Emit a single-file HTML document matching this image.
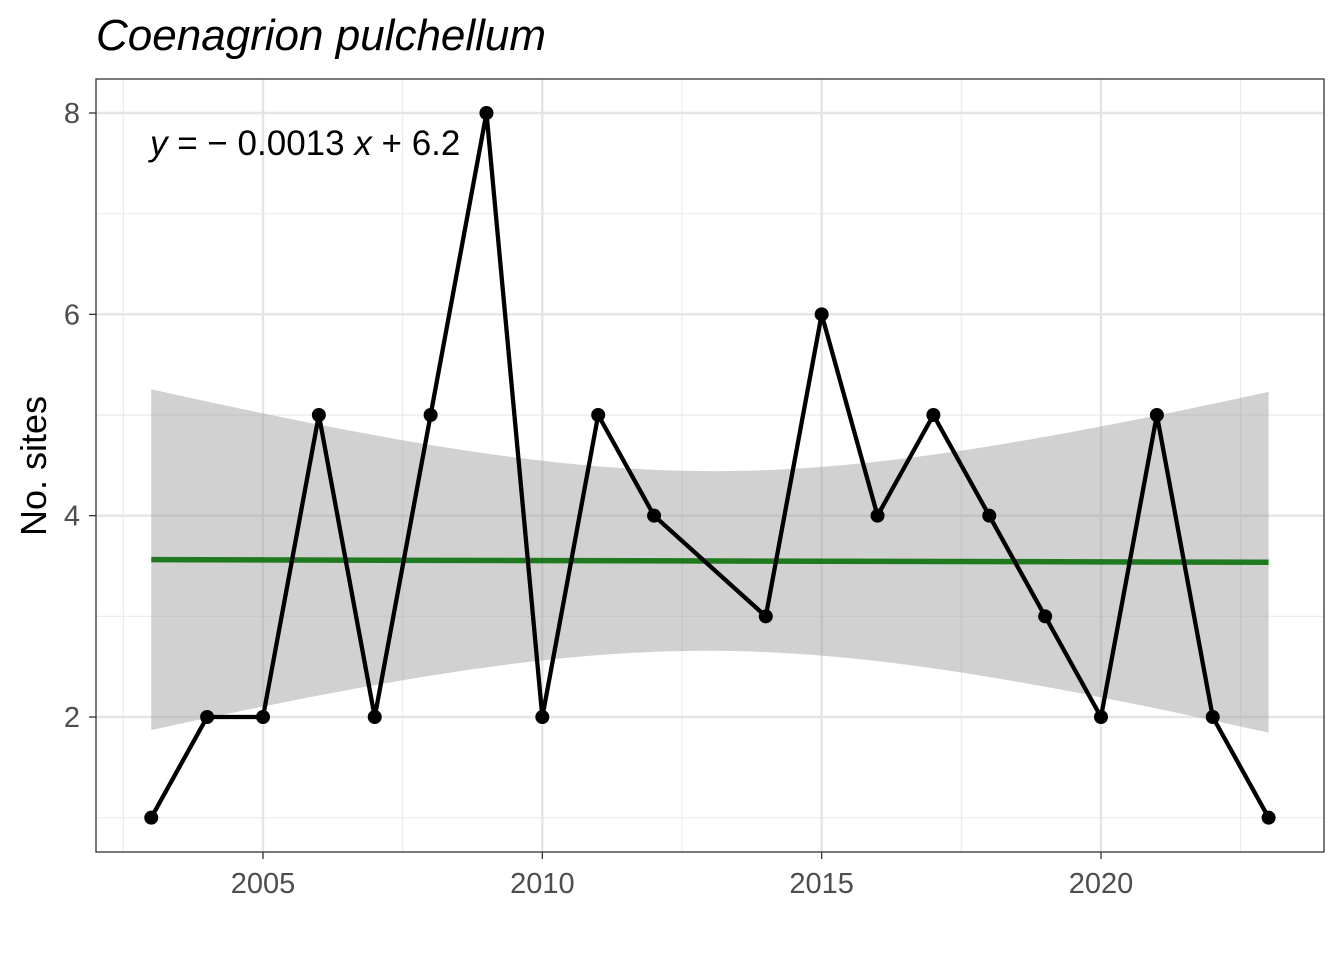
<!DOCTYPE html>
<html><head><meta charset="utf-8"><style>
body{margin:0;background:#fff;width:1344px;height:960px;overflow:hidden}
svg text{font-family:"Liberation Sans",Arial,sans-serif}
</style></head><body>
<svg id="chart" width="1344" height="960">
<text x="96" y="50" font-size="44" font-style="italic" fill="#000">Coenagrion pulchellum</text>
<g id="grid"></g>
<g id="band"></g>
<g id="marks"></g>
<rect x="96" y="79" width="1228" height="773" fill="none" stroke="#333" stroke-width="1.3"/>
<text x="150" y="155" font-size="35" fill="#000"><tspan font-style="italic">y</tspan> = − 0.0013 <tspan font-style="italic">x</tspan> + 6.2</text>
<text transform="translate(46,466) rotate(-90)" text-anchor="middle" font-size="36" fill="#000">No. sites</text>
<g id="axes"></g>
</svg>
<script>
const years=[2003,2004,2005,2006,2007,2008,2009,2010,2011,2012,2014,2015,2016,2017,2018,2019,2020,2021,2022,2023];
const counts=[1,2,2,5,2,5,8,2,5,4,3,6,4,5,4,3,2,5,2,1];
const xTicks=[2005,2010,2015,2020];
const yTicks=[2,4,6,8];
const xMinor=[2002.5,2007.5,2012.5,2017.5,2022.5];
const yMinor=[1,3,5,7];
const X=v=>263+(v-2005)*(1101-263)/15;
const Y=v=>717-(v-2)*(717-113)/6;
const NS='http://www.w3.org/2000/svg';
function mk(parent,tag,attrs){const e=document.createElementNS(NS,tag);for(const k in attrs)e.setAttribute(k,attrs[k]);document.getElementById(parent).appendChild(e);return e;}
xMinor.forEach(v=>{const l=mk('grid','line',{x1:X(v),x2:X(v),y1:79,y2:852,stroke:'#ebebeb','stroke-width':1.2});

});
yMinor.forEach(v=>{const l=mk('grid','line',{x1:96,x2:1324,y1:Y(v),y2:Y(v),stroke:'#ebebeb','stroke-width':1.2});

});
xTicks.forEach(v=>{const l=mk('grid','line',{x1:X(v),x2:X(v),y1:79,y2:852,stroke:'#e5e5e5','stroke-width':2.4});


const t=mk('axes','line',{x1:X(v),x2:X(v),y1:852,y2:859,stroke:'#333','stroke-width':1.3});


const tx=mk('axes','text',{x:X(v),y:893,'text-anchor':'middle','font-size':29,fill:'#4d4d4d'});tx.textContent=v;

});
yTicks.forEach(v=>{const l=mk('grid','line',{x1:96,x2:1324,y1:Y(v),y2:Y(v),stroke:'#e5e5e5','stroke-width':2.4});


const t=mk('axes','line',{x1:89,x2:96,y1:Y(v),y2:Y(v),stroke:'#333','stroke-width':1.3});


const tx=mk('axes','text',{x:80,y:Y(v)+10,'text-anchor':'end','font-size':29,fill:'#4d4d4d'});tx.textContent=v;

});
const n=years.length,mx=years.reduce((a,b)=>a+b)/n,my=counts.reduce((a,b)=>a+b)/n;
let sxx=0,sxy=0;years.forEach((x,i)=>{sxx+=(x-mx)**2;sxy+=(x-mx)*(counts[i]-my);});
const b=sxy/sxx,a=my-b*mx;let sse=0;years.forEach((x,i)=>{sse+=(counts[i]-a-b*x)**2;});
const s=Math.sqrt(sse/(n-2)),tq=2.101;
const x0=years[0],x1=years[n-1],up=[],lo=[];
for(let k=0;k<=80;k++){const x=x0+(x1-x0)*k/80,f=a+b*x,se=s*Math.sqrt(1/n+(x-mx)**2/sxx);up.push(X(x)+','+Y(f+tq*se));lo.unshift(X(x)+','+Y(f-tq*se));}
const band=mk('band','polygon',{points:up.concat(lo).join(' '),fill:'#999','fill-opacity':0.45});


const fit=mk('band','line',{x1:X(x0),y1:Y(a+b*x0),x2:X(x1),y2:Y(a+b*x1),stroke:'#1f7a1f','stroke-width':5.5});


const pl=mk('marks','polyline',{points:years.map((x,i)=>X(x)+','+Y(counts[i])).join(' '),fill:'none',stroke:'#000','stroke-width':4.3,'stroke-linejoin':'round'});


years.forEach((x,i)=>{const c=mk('marks','circle',{cx:X(x),cy:Y(counts[i]),r:7,fill:'#000'});

});
</script>
</body></html>
